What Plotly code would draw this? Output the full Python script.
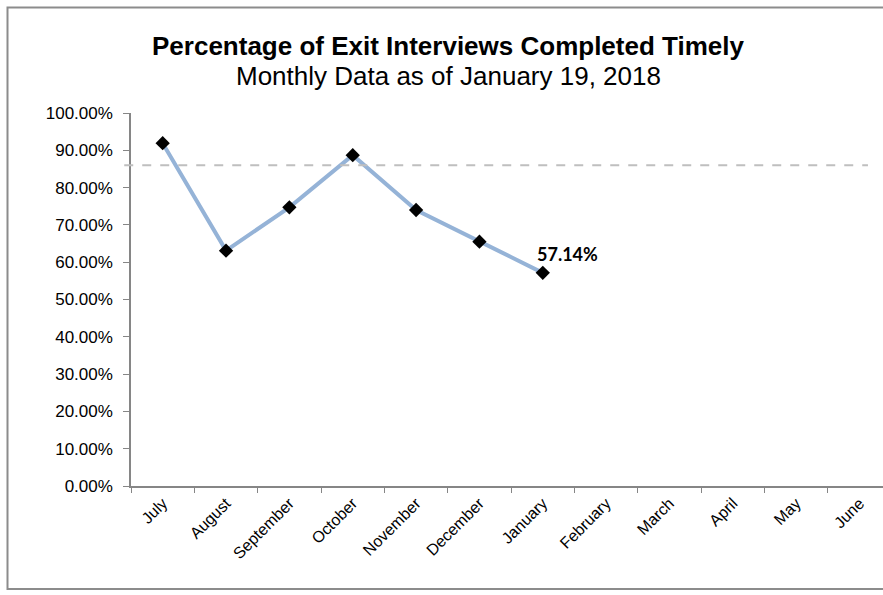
import plotly.graph_objects as go

months = ["July", "August", "September", "October", "November", "December",
          "January", "February", "March", "April", "May", "June"]
pct_timely = [91.9, 63.1, 74.7, 88.7, 74.0, 65.5, 57.14]
goal = 86.0
y_ticks = [0, 10, 20, 30, 40, 50, 60, 70, 80, 90, 100]
y_tick_labels = [f"{v:.2f}%" for v in y_ticks]
last_label = "57.14%"
title_text = "Percentage of Exit Interviews Completed Timely"
subtitle_text = "Monthly Data as of January 19, 2018"

FONT = "Liberation Sans, Arial, sans-serif"
W, H = 883, 595
L, R, T, B = 131, 0, 113, 109
plot_w = W - L - R
plot_h = H - T - B


def px_x(pix):
    return (pix - L) / plot_w


def px_y(pix):
    return (H - B - pix) / plot_h


fig = go.Figure()
fig.add_trace(go.Scatter(
    x=months[:len(pct_timely)], y=pct_timely,
    mode="lines+markers",
    line=dict(color="#95B3D7", width=4),
    marker=dict(symbol="diamond", size=11, color="#000000"),
    showlegend=False, hoverinfo="skip",
))

fig.add_shape(type="line", xref="x domain", yref="y",
              x0=-0.009, x1=0.98, y0=goal, y1=goal,
              line=dict(color="#BFBFBF", width=2, dash="dash"))

# outer chart border
fig.add_shape(type="rect", xref="paper", yref="paper",
              x0=px_x(7.5), x1=px_x(900), y0=px_y(589), y1=px_y(7.5),
              line=dict(color="#8C8C8C", width=2), fillcolor="rgba(0,0,0,0)",
              layer="below")

fig.add_annotation(x=months[len(pct_timely) - 1], y=pct_timely[-1], xref="x", yref="y",
                   text=f"<b>{last_label}</b>", showarrow=False,
                   xshift=25, yshift=19,
                   font=dict(family="Lato, Carlito, Calibri, sans-serif", size=18, color="#000000"))

fig.add_annotation(x=px_x(448), y=px_y(46), xref="paper", yref="paper",
                   xanchor="center", yanchor="middle",
                   text=f"<b>{title_text}</b>", showarrow=False,
                   font=dict(family=FONT, size=26, color="#000000"))
fig.add_annotation(x=px_x(448), y=px_y(76), xref="paper", yref="paper",
                   xanchor="center", yanchor="middle",
                   text=subtitle_text, showarrow=False,
                   font=dict(family=FONT, size=26, color="#000000"))

fig.update_layout(
    width=W, height=H,
    margin=dict(l=L, r=R, t=T, b=B),
    paper_bgcolor="#FFFFFF", plot_bgcolor="#FFFFFF",
    font=dict(family=FONT, color="#000000"),
    xaxis=dict(
        type="category", categoryorder="array", categoryarray=months,
        range=[-0.5, 11.37],
        tickangle=-45, tickson="boundaries",
        ticks="outside", ticklen=5, tickcolor="#868686", tickwidth=1,
        showline=True, linecolor="#868686", linewidth=1.5,
        showgrid=False, zeroline=False,
        tickfont=dict(size=16, color="#000000"),
    ),
    yaxis=dict(
        range=[0, 100],
        tickmode="array", tickvals=y_ticks, ticktext=y_tick_labels,
        ticks="outside", ticklen=6, tickcolor="#868686", tickwidth=1,
        ticklabelstandoff=7,
        showline=True, linecolor="#868686", linewidth=1.5,
        showgrid=False, zeroline=False,
        tickfont=dict(size=17, color="#000000"),
    ),
)

fig.write_html("out.html", config={"displayModeBar": False},
               post_script="document.body.style.margin='0';")
